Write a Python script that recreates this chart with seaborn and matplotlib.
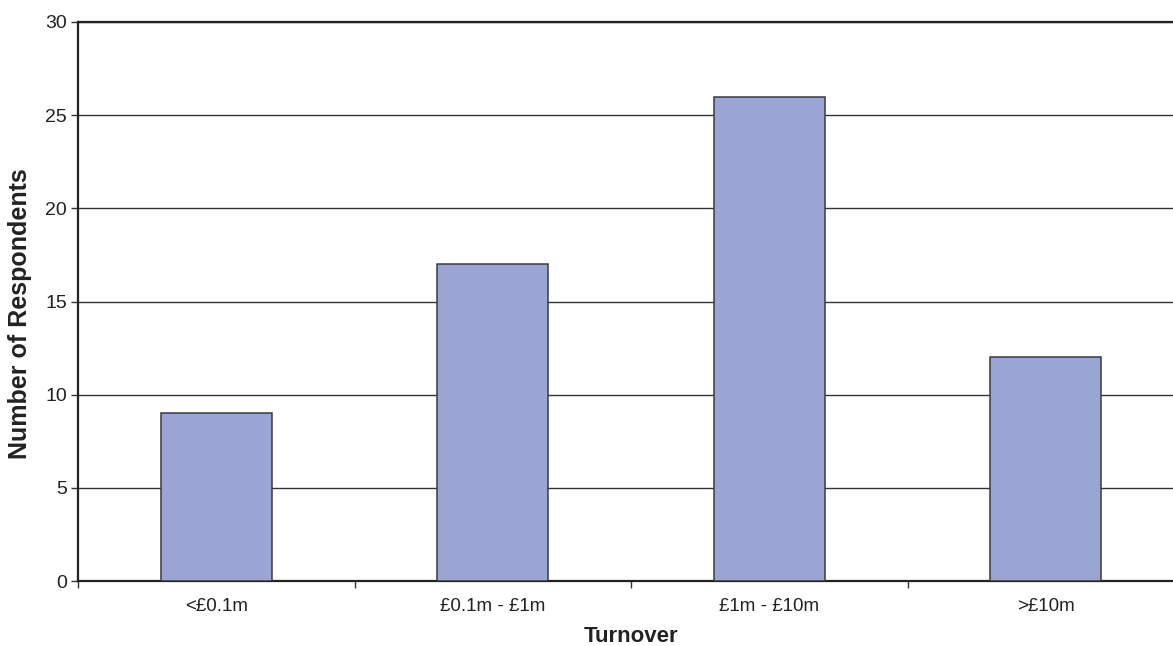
import matplotlib
matplotlib.use("Agg")
import matplotlib.pyplot as plt
from matplotlib.ticker import FixedLocator, NullFormatter
import seaborn as sns
import pandas as pd

categories = ["<£0.1m", "£0.1m - £1m", "£1m - £10m", ">£10m"]
respondents = [9, 17, 26, 12]
y_ticks = [0, 5, 10, 15, 20, 25, 30]

df = pd.DataFrame({"Turnover": categories, "Respondents": respondents})

sns.set_theme(style="white")
plt.rcParams["font.family"] = ["Liberation Sans", "DejaVu Sans"]

fig = plt.figure(figsize=(11.73, 6.46), dpi=100)
ax = fig.add_axes([78 / 1173, 65 / 646, (1184 - 78) / 1173, (581 - 22) / 646])

sns.barplot(data=df, x="Turnover", y="Respondents", order=categories,
            color="#9BA5D4", saturation=1, width=0.4,
            edgecolor="#3a3a3a", linewidth=1.1, ax=ax, zorder=3)

ax.set_ylim(0, 30)
ax.set_xlim(-0.5, len(categories) - 0.5)
ax.set_yticks(y_ticks)
ax.set_yticklabels([str(v) for v in y_ticks], fontsize=14, color="#222222")
ax.yaxis.grid(True, color="#333333", linewidth=1.0, zorder=0)
ax.set_axisbelow(True)

# category boundaries get the tick marks, centres get the labels
ax.xaxis.set_minor_locator(FixedLocator([i - 0.5 for i in range(len(categories) + 1)]))
ax.xaxis.set_minor_formatter(NullFormatter())
ax.tick_params(axis="x", which="major", length=0, pad=12, labelsize=13.5, labelcolor="#222222")
ax.tick_params(axis="x", which="minor", length=5, width=1, color="#333333", direction="out", bottom=True)
ax.tick_params(axis="y", length=5, width=1, color="#333333", direction="out", left=True, pad=3)

for side in ["left", "bottom", "top"]:
    ax.spines[side].set_visible(True)
    ax.spines[side].set_color("#222222")
    ax.spines[side].set_linewidth(1.6)
ax.spines["right"].set_visible(False)

ax.set_xlabel("Turnover", fontsize=16, fontweight="bold", color="#222222", labelpad=8)
ax.set_ylabel("Number of Respondents", fontsize=18, fontweight="bold", color="#222222")
ax.yaxis.set_label_coords(-0.042, 0.478)

fig.savefig("out.png", dpi=100)
